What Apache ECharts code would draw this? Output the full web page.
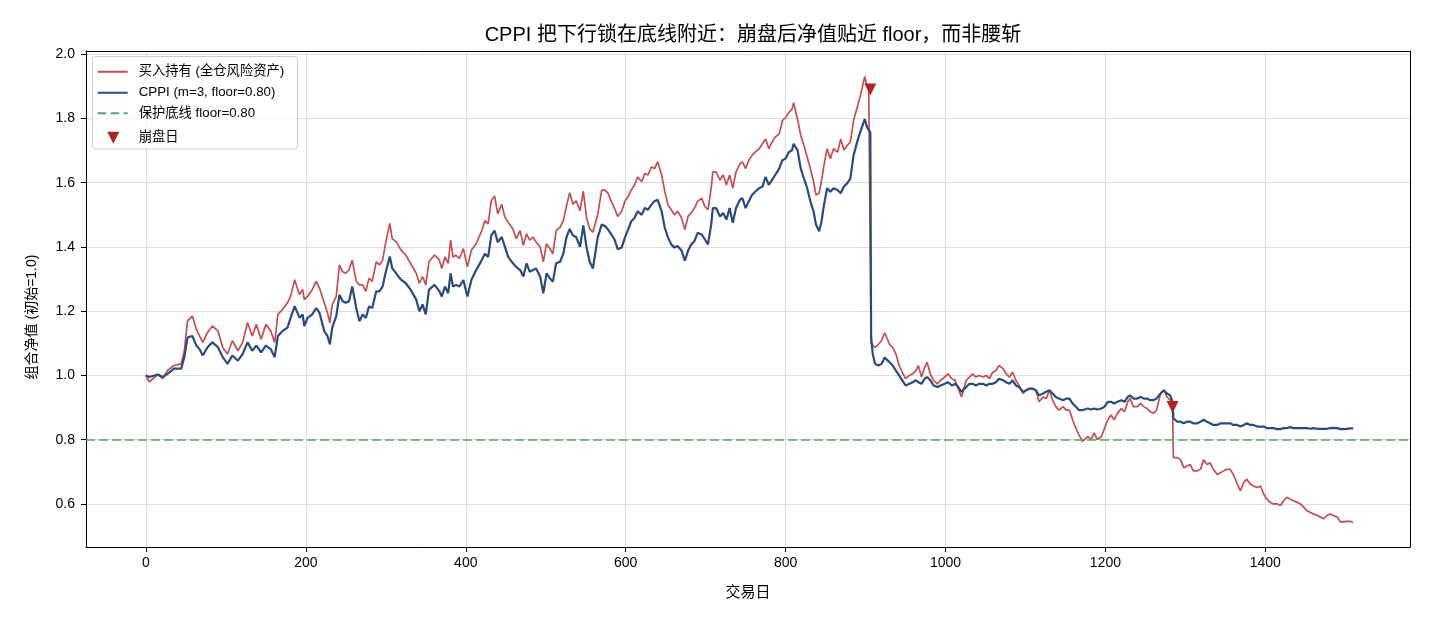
<!DOCTYPE html>
<html>
<head>
<meta charset="utf-8">
<script src="https://cdn.jsdelivr.net/npm/echarts@6/dist/echarts.min.js"></script>
<style>
  html, body { margin: 0; padding: 0; background: #fff; }
  #chart { width: 1430px; height: 624px; }
</style>
</head>
<body>
<div id="chart"></div>
<script>
// ---------------- data ----------------
const titleText = 'CPPI 把下行锁在底线附近：崩盘后净值贴近 floor，而非腰斩';
const xAxisName = '交易日';
const yAxisName = '组合净值 (初始=1.0)';
const nameBuyHold = '买入持有 (全仓风险资产)';
const nameCppi = 'CPPI (m=3, floor=0.80)';
const nameFloor = '保护底线 floor=0.80';
const nameCrash = '崩盘日';
const floorLevel = 0.80;

const days = [
  0,4,15,21,27,35,44,48,52,58,
  63,67,71,77,83,90,96,102,108,115,
  121,127,133,138,144,150,156,161,165,171,
  177,181,186,192,196,198,202,208,213,217,
  223,227,230,233,238,242,246,250,254,258,
  263,267,271,275,279,283,288,292,296,300,
  305,308,313,319,325,331,338,342,346,350,
  354,361,367,370,374,378,381,384,388,392,
  397,402,407,413,420,424,428,432,436,440,
  445,449,453,459,463,468,472,476,480,484,
  488,493,497,501,505,509,513,518,522,526,
  530,534,538,543,547,551,555,559,565,570,
  574,578,582,586,590,595,599,603,607,611,
  615,620,624,628,632,636,640,645,649,653,
  657,661,665,670,674,678,682,686,690,695,
  699,703,707,709,713,718,722,726,730,734,
  738,743,746,750,754,758,762,767,771,775,
  779,783,787,792,796,800,804,808,810,815,
  819,823,827,831,835,838,842,845,848,852,
  856,860,865,869,873,877,881,885,890,894,
  896,899,902,904,906,907,909,912,916,920,
  924,926,930,934,938,942,946,950,955,959,
  963,966,970,974,977,981,985,990,994,999,
  1003,1008,1012,1016,1020,1026,1030,1034,1038,1042,
  1047,1051,1055,1059,1063,1067,1072,1076,1080,1084,
  1088,1092,1097,1101,1105,1109,1113,1117,1122,1126,
  1130,1134,1138,1142,1147,1151,1155,1159,1163,1167,
  1171,1174,1178,1182,1186,1190,1195,1199,1203,1207,
  1211,1215,1220,1224,1228,1231,1235,1240,1244,1248,
  1252,1256,1260,1264,1269,1273,1277,1281,1284,1285,
  1290,1294,1298,1302,1306,1310,1315,1319,1323,1327,
  1331,1335,1340,1344,1348,1352,1356,1360,1365,1369,
  1373,1377,1381,1385,1390,1394,1398,1402,1406,1410,
  1415,1419,1423,1427,1431,1435,1440,1444,1448,1452,
  1456,1460,1465,1469,1473,1477,1481,1485,1490,1494,
  1498,1502,1506,1510
];

const buyHold = [
  1.000,0.980,1.003,0.990,1.016,1.031,1.036,1.077,1.170,1.185,
  1.144,1.123,1.103,1.134,1.154,1.139,1.087,1.067,1.108,1.077,
  1.103,1.165,1.123,1.159,1.113,1.159,1.139,1.103,1.190,1.206,
  1.226,1.247,1.298,1.252,1.268,1.236,1.246,1.267,1.293,1.272,
  1.226,1.195,1.164,1.221,1.246,1.344,1.323,1.318,1.329,1.359,
  1.293,1.282,1.282,1.262,1.303,1.293,1.354,1.344,1.359,1.416,
  1.473,1.426,1.416,1.390,1.375,1.349,1.318,1.287,1.308,1.282,
  1.354,1.375,1.359,1.333,1.369,1.349,1.421,1.369,1.374,1.364,
  1.395,1.338,1.390,1.410,1.451,1.482,1.472,1.544,1.559,1.503,
  1.533,1.492,1.477,1.456,1.426,1.451,1.405,1.441,1.421,1.431,
  1.415,1.400,1.354,1.410,1.395,1.379,1.451,1.462,1.482,1.528,
  1.569,1.533,1.544,1.513,1.574,1.492,1.456,1.446,1.500,1.577,
  1.577,1.567,1.542,1.521,1.495,1.511,1.542,1.557,1.577,1.593,
  1.618,1.603,1.629,1.624,1.649,1.644,1.665,1.624,1.572,1.531,
  1.516,1.500,1.511,1.490,1.454,1.495,1.506,1.521,1.542,1.552,
  1.526,1.516,1.583,1.634,1.634,1.608,1.624,1.593,1.624,1.583,
  1.634,1.659,1.665,1.644,1.670,1.685,1.695,1.706,1.721,1.736,
  1.706,1.726,1.742,1.752,1.793,1.803,1.818,1.829,1.849,1.798,
  1.747,1.716,1.680,1.644,1.603,1.562,1.567,1.608,1.654,1.706,
  1.675,1.706,1.695,1.736,1.701,1.716,1.726,1.793,1.839,1.875,
  1.870,1.931,1.900,1.890,1.885,1.100,1.097,1.087,1.097,1.108,
  1.133,1.133,1.097,1.087,1.067,1.031,1.010,0.990,1.000,1.005,
  1.015,1.031,0.995,1.026,1.041,1.005,0.985,0.974,0.985,0.995,
  1.005,0.990,0.985,0.959,0.933,0.985,0.995,1.005,0.995,1.000,
  0.995,1.000,0.990,1.010,1.015,1.031,1.021,1.005,0.995,1.010,
  0.985,0.969,0.944,0.954,0.959,0.959,0.954,0.918,0.933,0.928,
  0.954,0.923,0.903,0.892,0.903,0.892,0.892,0.862,0.836,0.815,
  0.795,0.800,0.810,0.800,0.821,0.800,0.810,0.836,0.862,0.877,
  0.862,0.882,0.897,0.887,0.918,0.928,0.903,0.903,0.913,0.903,
  0.897,0.887,0.882,0.892,0.944,0.954,0.933,0.923,0.905,0.744,
  0.744,0.738,0.713,0.718,0.723,0.703,0.703,0.708,0.738,0.723,
  0.728,0.708,0.692,0.697,0.703,0.708,0.708,0.692,0.662,0.641,
  0.667,0.677,0.662,0.656,0.651,0.656,0.631,0.615,0.605,0.600,
  0.600,0.595,0.610,0.621,0.615,0.610,0.605,0.600,0.590,0.579,
  0.574,0.569,0.564,0.559,0.554,0.564,0.569,0.564,0.559,0.544,
  0.544,0.546,0.546,0.542
];

const cppi = [
  1.000,0.995,1.003,0.995,1.005,1.021,1.021,1.057,1.118,1.123,
  1.093,1.082,1.062,1.088,1.103,1.088,1.057,1.036,1.062,1.046,
  1.067,1.103,1.077,1.093,1.072,1.093,1.082,1.057,1.123,1.139,
  1.149,1.180,1.216,1.180,1.190,1.154,1.179,1.190,1.210,1.195,
  1.138,1.123,1.097,1.149,1.185,1.251,1.231,1.226,1.231,1.277,
  1.210,1.169,1.190,1.179,1.215,1.210,1.262,1.262,1.277,1.323,
  1.370,1.334,1.318,1.298,1.287,1.267,1.236,1.200,1.221,1.190,
  1.267,1.282,1.262,1.246,1.277,1.256,1.318,1.277,1.282,1.277,
  1.297,1.246,1.297,1.328,1.359,1.379,1.369,1.436,1.451,1.415,
  1.431,1.400,1.369,1.349,1.338,1.328,1.308,1.349,1.323,1.328,
  1.333,1.308,1.256,1.318,1.303,1.292,1.349,1.354,1.379,1.431,
  1.456,1.436,1.431,1.400,1.467,1.400,1.354,1.333,1.429,1.470,
  1.465,1.454,1.439,1.424,1.393,1.398,1.429,1.454,1.480,1.490,
  1.511,1.500,1.521,1.516,1.531,1.542,1.547,1.511,1.459,1.429,
  1.408,1.398,1.403,1.388,1.357,1.388,1.408,1.418,1.444,1.439,
  1.424,1.408,1.470,1.521,1.521,1.495,1.506,1.485,1.521,1.475,
  1.521,1.547,1.552,1.521,1.542,1.562,1.572,1.583,1.588,1.618,
  1.593,1.608,1.624,1.644,1.670,1.675,1.695,1.701,1.721,1.701,
  1.644,1.613,1.583,1.542,1.511,1.470,1.449,1.480,1.531,1.583,
  1.572,1.583,1.577,1.567,1.588,1.598,1.613,1.685,1.731,1.762,
  1.757,1.798,1.772,1.767,1.757,1.120,1.067,1.036,1.031,1.036,
  1.056,1.062,1.041,1.031,1.015,1.000,0.985,0.969,0.974,0.979,
  0.985,0.979,0.974,0.990,0.995,0.985,0.969,0.964,0.969,0.974,
  0.979,0.969,0.974,0.964,0.949,0.964,0.974,0.974,0.969,0.974,
  0.974,0.969,0.974,0.974,0.979,0.990,0.985,0.979,0.974,0.985,
  0.969,0.964,0.949,0.954,0.959,0.959,0.954,0.938,0.944,0.949,
  0.954,0.944,0.933,0.928,0.923,0.928,0.928,0.913,0.903,0.892,
  0.892,0.894,0.897,0.894,0.897,0.894,0.897,0.903,0.918,0.918,
  0.913,0.918,0.923,0.918,0.933,0.938,0.928,0.928,0.933,0.928,
  0.928,0.923,0.923,0.928,0.944,0.954,0.944,0.938,0.918,0.867,
  0.856,0.856,0.851,0.856,0.856,0.851,0.851,0.856,0.862,0.856,
  0.851,0.846,0.846,0.851,0.851,0.851,0.851,0.846,0.846,0.841,
  0.846,0.851,0.846,0.846,0.841,0.841,0.841,0.836,0.836,0.836,
  0.833,0.833,0.836,0.836,0.839,0.836,0.836,0.836,0.836,0.836,
  0.834,0.836,0.834,0.834,0.834,0.834,0.836,0.837,0.836,0.833,
  0.833,0.834,0.835,0.835
];

const crashDays = [906, 1284];
const crashValues = [1.890, 0.902];

const xMin = -75, xMax = 1581;
const yMin = 0.466, yMax = 2.01;
// -----------------------------------------------------------------------

const FONT = "'Liberation Sans', 'Noto Sans CJK SC', sans-serif";
const RED = '#c44e52', BLUE = '#2b4a7e', GREEN = '#55a868', MARK = '#b22222';

const chart = echarts.init(document.getElementById('chart'), null, { renderer: 'canvas' });

const redData = days.map((d, i) => [d, buyHold[i]]);
const blueData = days.map((d, i) => [d, cppi[i]]);
const crashData = crashDays.map((d, i) => [d, crashValues[i]]);

// legend handle paths (tiny specks reserve the full icon box so the handle keeps its size)
const speck = ' M0,0h0.01v0.01h-0.01z M35.99,0h0.01v0.01h-0.01z';
const solidIcon = 'path://M0,0h30v2H0z' + speck;
const dashIcon = 'path://M0,0h8.5v2H0z M13,0h8.5v2H13z M26,0h4v2H26z' + speck;
const triIcon = 'path://M9.6,0L21.6,0L15.6,12Z' + speck;

function legendAt(name, top, icon, h) {
  return {
    data: [name], left: 97.7, top: top, padding: 0,
    icon: icon, itemWidth: 36, itemHeight: h,
    textStyle: { fontFamily: FONT, fontSize: 13.3, color: '#000' },
    selectedMode: false, z: 5
  };
}

const frameAxis = {
  show: true,
  axisLine: { show: true, onZero: false, lineStyle: { color: '#000', width: 1 } },
  axisTick: { show: false }, axisLabel: { show: false }, splitLine: { show: false }
};

const option = {
  animation: false,
  backgroundColor: '#fff',
  textStyle: { fontFamily: FONT },
  title: {
    text: titleText, left: 748, top: 20, textAlign: 'center',
    textStyle: { fontFamily: FONT, fontSize: 20, fontWeight: 'normal', color: '#000' }
  },
  grid: {
    left: 86, right: 20, top: 51, bottom: 77,
    show: false, containLabel: false, outerBoundsMode: 'none'
  },
  legend: [
    legendAt(nameBuyHold, 65, solidIcon, 2),
    legendAt(nameCppi, 86, solidIcon, 2),
    legendAt(nameFloor, 106.7, dashIcon, 2),
    legendAt(nameCrash, 131, triIcon, 12)
  ],
  graphic: [{
    type: 'rect', z: 3,
    shape: { x: 92.5, y: 56.5, width: 205, height: 92.5, r: 3 },
    style: { fill: 'rgba(255,255,255,0.8)', stroke: '#cccccc', lineWidth: 1 }
  }],
  xAxis: [{
    type: 'value', min: xMin, max: xMax, splitNumber: 8, position: 'bottom',
    name: xAxisName, nameLocation: 'middle', nameGap: 38,
    nameTextStyle: { fontFamily: FONT, fontSize: 15, color: '#000' },
    axisLine: { show: true, onZero: false, lineStyle: { color: '#000', width: 1 } },
    axisTick: { show: true, length: 5, lineStyle: { color: '#000' } },
    axisLabel: {
      fontFamily: FONT, fontSize: 14, color: '#000', margin: 9,
      showMinLabel: false, showMaxLabel: false,
      formatter: v => (Math.abs(v % 200) < 1e-6 ? String(v) : '')
    },
    splitLine: { show: true, lineStyle: { color: '#dddddd', width: 1 } }
  }, Object.assign({ type: 'value', min: xMin, max: xMax, position: 'top' }, frameAxis)],
  yAxis: [{
    type: 'value', min: yMin, max: yMax, splitNumber: 7, position: 'left',
    name: yAxisName, nameLocation: 'middle', nameGap: 47, nameRotate: 90,
    nameTextStyle: { fontFamily: FONT, fontSize: 14, color: '#000', padding: [0, 36, 0, 0] },
    axisLine: { show: true, onZero: false, lineStyle: { color: '#000', width: 1 } },
    axisTick: { show: true, length: 5, lineStyle: { color: '#000' } },
    axisLabel: {
      fontFamily: FONT, fontSize: 14, color: '#000', margin: 11,
      showMinLabel: false, showMaxLabel: false,
      formatter: v => (Math.abs(v * 5 - Math.round(v * 5)) < 1e-6 ? v.toFixed(1) : '')
    },
    splitLine: { show: true, lineStyle: { color: '#dddddd', width: 1 } }
  }, Object.assign({ type: 'value', min: yMin, max: yMax, position: 'right' }, frameAxis)],
  series: [
    {
      name: nameBuyHold, type: 'line', data: redData, showSymbol: false, symbol: 'none',
      lineStyle: { color: RED, width: 1.7 }, itemStyle: { color: RED }, z: 2
    },
    {
      name: nameCppi, type: 'line', data: blueData, showSymbol: false, symbol: 'none',
      lineStyle: { color: BLUE, width: 2.2 }, itemStyle: { color: BLUE }, z: 3
    },
    {
      name: nameFloor, type: 'line', data: [], showSymbol: false, symbol: 'none',
      lineStyle: { color: GREEN, width: 1.6, type: [9, 4] }, itemStyle: { color: GREEN },
      markLine: {
        silent: true, symbol: 'none', label: { show: false },
        lineStyle: { color: GREEN, width: 1.6, type: [9, 4] },
        data: [{ yAxis: floorLevel }]
      }, z: 4
    },
    {
      name: nameCrash, type: 'scatter', data: crashData,
      symbol: 'triangle', symbolRotate: 180, symbolSize: [12, 12],
      itemStyle: { color: MARK, opacity: 1 }, z: 6
    }
  ]
};

chart.setOption(option);
</script>
</body>
</html>
